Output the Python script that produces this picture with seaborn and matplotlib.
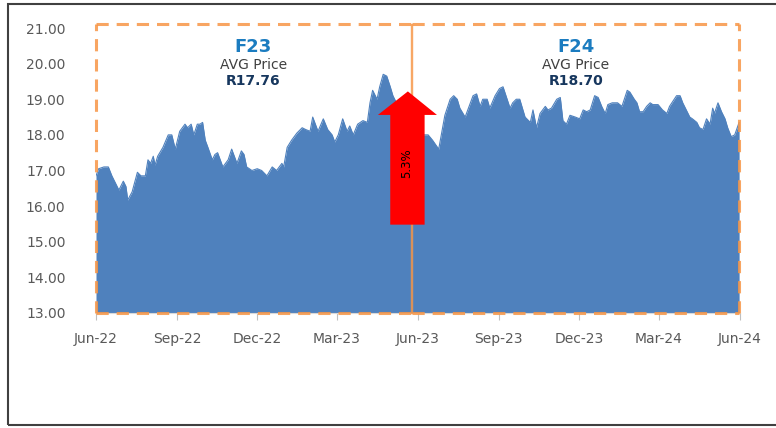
import seaborn as sns
import matplotlib.pyplot as plt
import matplotlib.dates as mdates
from matplotlib.patches import Polygon, Rectangle
import pandas as pd

# lectura aproximada del grafico (USD/ZAR)
fechas = [
    "2022-06-01", "2022-06-04", "2022-06-10", "2022-06-15", "2022-06-19", "2022-06-24", "2022-06-27",
    "2022-07-02", "2022-07-05", "2022-07-07", "2022-07-12", "2022-07-18", "2022-07-22", "2022-07-27",
    "2022-07-30", "2022-08-02", "2022-08-05", "2022-08-07", "2022-08-10", "2022-08-16", "2022-08-22",
    "2022-08-26", "2022-08-30", "2022-09-04", "2022-09-10", "2022-09-13", "2022-09-17", "2022-09-20",
    "2022-09-24", "2022-09-27", "2022-09-30", "2022-10-03", "2022-10-06", "2022-10-11", "2022-10-14",
    "2022-10-17", "2022-10-23", "2022-10-29", "2022-11-02", "2022-11-08", "2022-11-13", "2022-11-16",
    "2022-11-19", "2022-11-25", "2022-12-01", "2022-12-06", "2022-12-12", "2022-12-18", "2022-12-23",
    "2022-12-29", "2022-12-31", "2023-01-04", "2023-01-09", "2023-01-15", "2023-01-21", "2023-01-25",
    "2023-01-30", "2023-02-02", "2023-02-08", "2023-02-14", "2023-02-19", "2023-02-24", "2023-02-27",
    "2023-03-03", "2023-03-08", "2023-03-13", "2023-03-16", "2023-03-20", "2023-03-25", "2023-03-31",
    "2023-04-05", "2023-04-08", "2023-04-11", "2023-04-16", "2023-04-19", "2023-04-23", "2023-04-27",
    "2023-05-01", "2023-05-04", "2023-05-10", "2023-05-15", "2023-05-21", "2023-05-27", "2023-06-01",
    "2023-06-07", "2023-06-13", "2023-06-18", "2023-06-25", "2023-07-02", "2023-07-08", "2023-07-12",
    "2023-07-16", "2023-07-19", "2023-07-25", "2023-07-28", "2023-08-03", "2023-08-07", "2023-08-11",
    "2023-08-14", "2023-08-19", "2023-08-22", "2023-08-28", "2023-09-02", "2023-09-06", "2023-09-10",
    "2023-09-14", "2023-09-17", "2023-09-21", "2023-09-25", "2023-10-01", "2023-10-07", "2023-10-10",
    "2023-10-14", "2023-10-18", "2023-10-24", "2023-10-27", "2023-10-31", "2023-11-06", "2023-11-10",
    "2023-11-13", "2023-11-17", "2023-11-21", "2023-11-27", "2023-12-02", "2023-12-06", "2023-12-10",
    "2023-12-14", "2023-12-19", "2023-12-23", "2023-12-27", "2023-12-31", "2024-01-03", "2024-01-08",
    "2024-01-14", "2024-01-19", "2024-01-25", "2024-01-28", "2024-02-02", "2024-02-05", "2024-02-08",
    "2024-02-12", "2024-02-16", "2024-02-20", "2024-02-23", "2024-02-29", "2024-03-05", "2024-03-10",
    "2024-03-13", "2024-03-17", "2024-03-21", "2024-03-25", "2024-03-28", "2024-04-02", "2024-04-05",
    "2024-04-08", "2024-04-13", "2024-04-16", "2024-04-20", "2024-04-24", "2024-04-28", "2024-05-01",
    "2024-05-03", "2024-05-07", "2024-05-11", "2024-05-15", "2024-05-18", "2024-05-22", "2024-05-26",
    "2024-05-31",
]
precios = [
    16.85, 17.05, 17.10, 17.10, 16.85, 16.60, 16.45,
    16.70, 16.55, 16.17, 16.40, 16.95, 16.85, 16.85,
    17.30, 17.20, 17.40, 17.15, 17.40, 17.65, 18.00,
    18.00, 17.60, 18.10, 18.30, 18.20, 18.30, 18.00,
    18.30, 18.30, 18.35, 17.85, 17.65, 17.30, 17.45,
    17.50, 17.10, 17.30, 17.60, 17.20, 17.55, 17.45,
    17.10, 17.00, 17.05, 17.00, 16.85, 17.10, 17.00,
    17.20, 17.10, 17.65, 17.85, 18.05, 18.20, 18.15,
    18.10, 18.50, 18.10, 18.45, 18.15, 18.00, 17.80,
    18.00, 18.45, 18.10, 18.25, 18.00, 18.30, 18.40,
    18.35, 18.90, 19.25, 19.00, 19.35, 19.70, 19.65,
    19.35, 19.10, 18.80, 18.50, 18.30, 18.60, 18.30,
    18.00, 18.00, 17.85, 17.60, 18.55, 19.00, 19.10,
    19.00, 18.75, 18.50, 18.70, 19.10, 19.15, 18.80,
    19.00, 19.00, 18.75, 19.10, 19.30, 19.35, 19.05,
    18.75, 18.90, 19.00, 19.00, 18.50, 18.35, 18.70,
    18.20, 18.60, 18.80, 18.70, 18.75, 19.00, 19.05,
    18.40, 18.30, 18.55, 18.50, 18.45, 18.70, 18.65,
    18.70, 19.10, 19.05, 18.80, 18.60, 18.85, 18.90,
    18.90, 18.80, 19.25, 19.20, 19.00, 18.90, 18.65,
    18.65, 18.80, 18.90, 18.85, 18.85, 18.70, 18.60,
    18.80, 18.95, 19.10, 19.10, 18.90, 18.65, 18.50,
    18.45, 18.35, 18.20, 18.15, 18.45, 18.30, 18.75,
    18.60, 18.90, 18.65, 18.45, 18.20, 17.95, 18.00,
    18.35,
]

periodos = ["F23", "F24"]
promedios = ["R17.76", "R18.70"]
inicio_periodo = ["2022-06-01", "2023-05-26"]
fin_periodo = ["2023-05-24", "2024-05-31"]
variacion = "5.3%"

df = pd.DataFrame({"fecha": pd.to_datetime(fechas), "precio": precios})

sns.set_style("white")
plt.rcParams["font.family"] = ["DejaVu Sans"]

fig = plt.figure(figsize=(7.76, 4.28), dpi=100)
ax = fig.add_axes([96 / 776, 1 - 313 / 428, 644 / 776, 285 / 428])

azul = "#4F81BD"
naranja = "#F79646"
gris = "#595959"

ax.fill_between(df["fecha"], 13, df["precio"], color=azul, lw=0)
sns.lineplot(data=df, x="fecha", y="precio", ax=ax, color=azul, lw=0.8)

ax.set_xlim(pd.Timestamp("2022-06-01"), pd.Timestamp("2024-06-01"))
ax.set_ylim(13, 21)
ax.set_yticks(range(13, 22))
ax.yaxis.set_major_formatter(plt.FormatStrFormatter("%.2f"))
ax.xaxis.set_major_locator(mdates.MonthLocator(bymonth=[3, 6, 9, 12]))
ax.xaxis.set_major_formatter(mdates.DateFormatter("%b-%y"))
ax.tick_params(axis="y", length=0, pad=22, labelsize=10, labelcolor=gris)
ax.tick_params(axis="x", length=5, width=0.8, color="#bfbfbf", pad=9,
               labelsize=10, labelcolor=gris, bottom=True)
ax.set_xlabel("")
ax.set_ylabel("")
for lado in ["left", "right", "top"]:
    ax.spines[lado].set_visible(False)
ax.spines["bottom"].set_color("#d9d9d9")

# cajas punteadas por periodo fiscal
tope = 21.1
for i in range(2):
    x0 = pd.Timestamp(inicio_periodo[i])
    x1 = pd.Timestamp(fin_periodo[i])
    estilo = dict(color=naranja, alpha=0.85, lw=2.2, ls=(0, (4, 2.6)), clip_on=False, zorder=4)
    fino = dict(color=naranja, alpha=0.8, lw=1.0, clip_on=False, zorder=4)
    ax.plot([x0, x1], [tope, tope], **estilo)
    ax.plot([x0, x1], [13, 13], **estilo)
    if i == 0:
        ax.plot([x0, x0], [13, tope], **estilo)
        ax.plot([x1, x1], [13, tope], **fino)
    else:
        ax.plot([x1, x1], [13, tope], **estilo)
        ax.plot([x0, x0], [13, tope], **fino)
    centro = x0 + (x1 - x0) / 2
    ax.text(centro, 20.48, periodos[i], ha="center", va="center", fontsize=13,
            fontweight="bold", color="#1B7CC0", zorder=6)
    ax.text(centro, 19.97, "AVG Price", ha="center", va="center", fontsize=10,
            color="#404040", zorder=6)
    ax.text(centro, 19.5, promedios[i], ha="center", va="center", fontsize=10,
            fontweight="bold", color="#17375E", zorder=6)

# flecha roja de variacion
d = mdates.date2num
flecha = [
    (d(pd.Timestamp("2023-05-01")), 15.48),
    (d(pd.Timestamp("2023-05-01")), 18.56),
    (d(pd.Timestamp("2023-04-17")), 18.56),
    (d(pd.Timestamp("2023-05-21")), 19.22),
    (d(pd.Timestamp("2023-06-23")), 18.56),
    (d(pd.Timestamp("2023-06-09")), 18.56),
    (d(pd.Timestamp("2023-06-09")), 15.48),
]
ax.add_patch(Polygon(flecha, closed=True, color="#FF0000", lw=0, zorder=5))
ax.text(pd.Timestamp("2023-05-20"), 17.2, variacion, rotation=90, ha="center",
        va="center", fontsize=8.5, color="black", zorder=6)

# marco exterior
fig.patches.append(Rectangle((8 / 776, 3 / 428), 1.2, 1 - 7 / 428, transform=fig.transFigure,
                             fill=False, edgecolor="#404040", lw=1.5))

plt.savefig("out.png", dpi=100)
